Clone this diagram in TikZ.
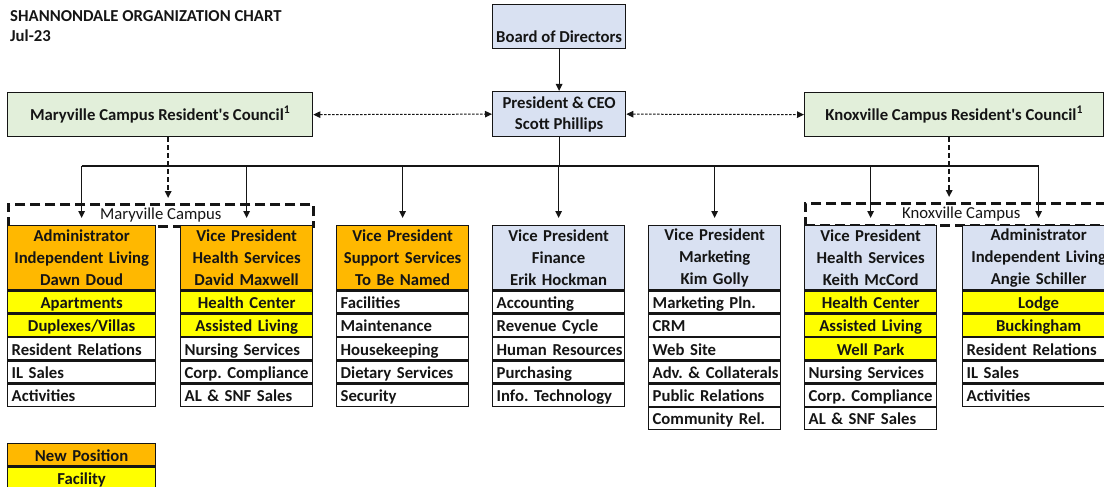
\documentclass[tikz,border=0pt]{standalone}
\usepackage{fontspec}
\setmainfont{Carlito}
\usetikzlibrary{arrows.meta}

\definecolor{newpos}{HTML}{FFB800}
\definecolor{facility}{HTML}{FFFF00}
\definecolor{execblue}{HTML}{D9E1F2}
\definecolor{councilgreen}{HTML}{E2EFDA}
\definecolor{ink}{HTML}{151515}

\newcommand\chartfont{\fontsize{16.7}{20}\selectfont\frenchspacing}

\tikzset{
  cellbase/.style={draw=ink, text=ink, line width=1.3pt, inner sep=0pt, anchor=north west},
  hdr/.style={cellbase, minimum height=64pt, align=center,
              font=\fontsize{16.7}{22}\selectfont\bfseries},
  rowbase/.style={cellbase, minimum height=22pt, text height=13.5pt, text depth=0.5pt,
              font=\chartfont\bfseries},
  dept/.style={rowbase, fill=white, align=left, inner xsep=4pt,
              execute at begin node={\hbox\bgroup}, execute at end node={\egroup}},
  fac/.style={rowbase, fill=facility, align=center},
  fresh/.style={fill=newpos},
  exec/.style={fill=execblue},
  council/.style={cellbase, fill=councilgreen, minimum height=44pt, font=\chartfont\bfseries},
  campus/.style={draw=ink, text=ink, line width=2.6pt, dash pattern=on 10pt off 5pt,
              anchor=north west, minimum height=22pt, inner sep=0pt, font=\chartfont},
  link/.style={draw=ink, line width=1.2pt, ->},
  advisory/.style={draw=ink, line width=1pt, dash pattern=on 2.5pt off 1.5pt, <->},
  campuslink/.style={draw=ink, line width=1.6pt, dash pattern=on 5pt off 3pt, ->},
  wA/.style={text width=148pt}, wAd/.style={text width=140pt},
  wB/.style={text width=132pt}, wBd/.style={text width=124pt},
  wC/.style={text width=152pt}, wCd/.style={text width=144pt},
}

\begin{document}
\frenchspacing
\begin{tikzpicture}[x=1pt, y=-1pt, >={Triangle[length=7pt,width=6.5pt]}]
\useasboundingbox (0,0) rectangle (1104,487);
\clip (0,0) rectangle (1104,487);

% title block
\node[anchor=base west, text=ink, inner sep=0pt, font=\chartfont\bfseries]
  (title) at (10,21.5) {SHANNONDALE ORGANIZATION CHART};
\node[anchor=base west, text=ink, inner sep=0pt, font=\chartfont\bfseries]
  (date) at (10,42) {Jul-23};

% governance
\node[cellbase, exec, minimum width=133pt, minimum height=44pt, text height=32pt, text depth=0pt,
      font=\chartfont\bfseries] (board) at (492,4) {Board of Directors};
\node[cellbase, exec, minimum width=133pt, minimum height=45pt, align=center,
      font=\fontsize{16.7}{21}\selectfont\bfseries] (ceo) at (492,91) {President \& CEO\\Scott Phillips};

\node[council, minimum width=305pt] (mvcouncil) at (7,92)
  {Maryville Campus Resident\textquotesingle s Council\textsuperscript{1}};
\node[council, minimum width=299pt] (kxcouncil) at (804,92)
  {Knoxville Campus Resident\textquotesingle s Council\textsuperscript{1}};

% campus groupings
\node[campus, minimum width=305pt] (mvcampus) at (7,203) {Maryville Campus};
\node[campus, minimum width=312pt] (kxcampus) at (804,202) {Knoxville Campus};

% Maryville administrator
\node[hdr, fresh, wA] (mva) at (7,225) {Administrator\\Independent Living\\Dawn Doud};
\node[fac, wA] (mva1) at (mva.south west) {Apartments};
\node[fac, wA] (mva2) at (mva1.south west) {Duplexes/Villas};
\node[dept, wAd] (mva3) at (mva2.south west) {Resident Relations};
\node[dept, wAd] (mva4) at (mva3.south west) {IL Sales};
\node[dept, wAd] (mva5) at (mva4.south west) {Activities};

% Maryville health services
\node[hdr, fresh, wB] (mvh) at (180,225) {Vice President\\Health Services\\David Maxwell};
\node[fac, wB] (mvh1) at (mvh.south west) {Health Center};
\node[fac, wB] (mvh2) at (mvh1.south west) {Assisted Living};
\node[dept, wBd] (mvh3) at (mvh2.south west) {Nursing Services};
\node[dept, wBd] (mvh4) at (mvh3.south west) {Corp. Compliance};
\node[dept, wBd] (mvh5) at (mvh4.south west) {AL \& SNF Sales};

% support services
\node[hdr, fresh, wB] (sup) at (336,225) {Vice President\\Support Services\\To Be Named};
\node[dept, wBd] (sup1) at (sup.south west) {Facilities};
\node[dept, wBd] (sup2) at (sup1.south west) {Maintenance};
\node[dept, wBd] (sup3) at (sup2.south west) {Housekeeping};
\node[dept, wBd] (sup4) at (sup3.south west) {Dietary Services};
\node[dept, wBd] (sup5) at (sup4.south west) {Security};

% finance
\node[hdr, exec, wB] (fin) at (492,225) {Vice President\\Finance\\Erik Hockman};
\node[dept, wBd] (fin1) at (fin.south west) {Accounting};
\node[dept, wBd] (fin2) at (fin1.south west) {Revenue Cycle};
\node[dept, wBd] (fin3) at (fin2.south west) {Human Resources};
\node[dept, wBd] (fin4) at (fin3.south west) {Purchasing};
\node[dept, wBd] (fin5) at (fin4.south west) {Info. Technology};

% marketing
\node[hdr, exec, wB] (mkt) at (648,225) {Vice President\\Marketing\\Kim Golly};
\node[dept, wBd] (mkt1) at (mkt.south west) {Marketing Pln.};
\node[dept, wBd] (mkt2) at (mkt1.south west) {CRM};
\node[dept, wBd] (mkt3) at (mkt2.south west) {Web Site};
\node[dept, wBd] (mkt4) at (mkt3.south west) {Adv. \& Collaterals};
\node[dept, wBd] (mkt5) at (mkt4.south west) {Public Relations};
\node[dept, wBd] (mkt6) at (mkt5.south west) {Community Rel.};

% Knoxville health services
\node[hdr, exec, wB] (kxh) at (804,225) {Vice President\\Health Services\\Keith McCord};
\node[fac, wB] (kxh1) at (kxh.south west) {Health Center};
\node[fac, wB] (kxh2) at (kxh1.south west) {Assisted Living};
\node[fac, wB] (kxh3) at (kxh2.south west) {Well Park};
\node[dept, wBd] (kxh4) at (kxh3.south west) {Nursing Services};
\node[dept, wBd] (kxh5) at (kxh4.south west) {Corp. Compliance};
\node[dept, wBd] (kxh6) at (kxh5.south west) {AL \& SNF Sales};

% Knoxville administrator
\node[hdr, exec, wC] (kxa) at (962,225) {Administrator\\Independent Living\\Angie Schiller};
\node[fac, wC] (kxa1) at (kxa.south west) {Lodge};
\node[fac, wC] (kxa2) at (kxa1.south west) {Buckingham};
\node[dept, wCd] (kxa3) at (kxa2.south west) {Resident Relations};
\node[dept, wCd] (kxa4) at (kxa3.south west) {IL Sales};
\node[dept, wCd] (kxa5) at (kxa4.south west) {Activities};

% legend
\node[fac, fresh, wA] (key1) at (7,443) {New Position};
\node[fac, wA] (key2) at (key1.south west) {Facility};

% reporting lines
\coordinate (busL) at (mva.north |- 0,166);
\coordinate (busR) at (kxa.north |- 0,166);
\draw[link] (board) -- (ceo);
\draw[draw=ink, line width=1.2pt] (ceo.south) -- (ceo.south |- busL);
\draw[draw=ink, line width=1.2pt] (busL) -- (busR);
\foreach \col in {mva, mvh, sup, fin, mkt, kxh, kxa}
  \draw[link] (\col.north |- busL) -- ([yshift=7pt]\col.north);

% advisory councils
\draw[advisory] (mvcouncil.east) -- (ceo.west);
\draw[advisory] (ceo.east) -- (kxcouncil.west);
\draw[campuslink, shorten >=5pt] ([xshift=8pt]mvcouncil.south) -- ([xshift=8pt]mvcouncil.south |- mvcampus.north);
\draw[campuslink, shorten >=5pt] ([xshift=-5pt]kxcouncil.south) -- ([xshift=-5pt]kxcouncil.south |- kxcampus.north);
\end{tikzpicture}
\end{document}
